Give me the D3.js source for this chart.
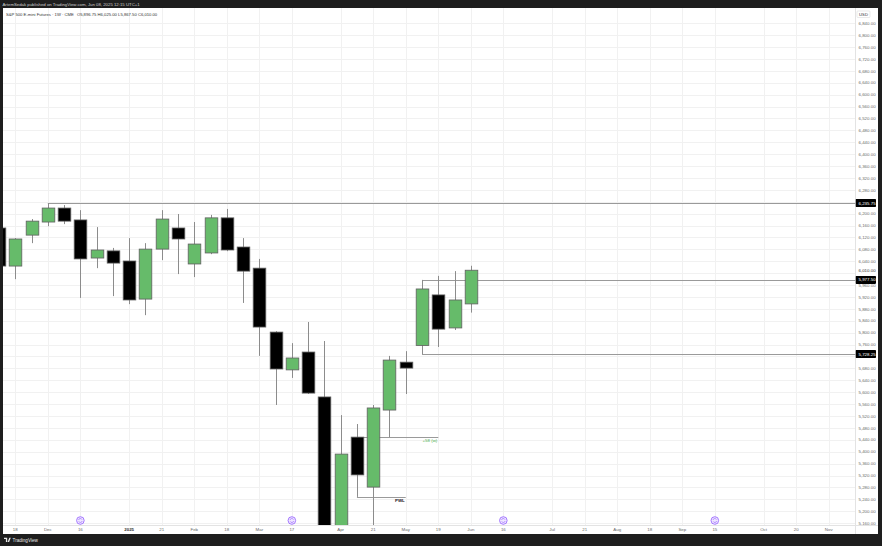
<!DOCTYPE html>
<html>
<head>
<meta charset="utf-8">
<script src="https://cdn.jsdelivr.net/npm/d3@7"></script>
<style>
html, body { margin: 0; padding: 0; background: #1e1e1e; }
svg { display: block; font-family: "Liberation Sans", Arial, sans-serif; }
</style>
</head>
<body>
<svg width="882" height="546"></svg>
<script>
// weekly candles, S&P 500 E-mini (1W)
var weeks  = ["2024-11-11","2024-11-18","2024-11-25","2024-12-02","2024-12-09","2024-12-16","2024-12-23","2024-12-30",
              "2025-01-06","2025-01-13","2025-01-20","2025-01-27","2025-02-03","2025-02-10","2025-02-17","2025-02-24",
              "2025-03-03","2025-03-10","2025-03-17","2025-03-24","2025-03-31","2025-04-07","2025-04-14","2025-04-21",
              "2025-04-28","2025-05-05","2025-05-12","2025-05-19","2025-05-26","2025-06-02"];
var opens  = [6152, 6024, 6128, 6172, 6219, 6179, 6051, 6075, 6041, 5913, 6081, 6152, 6031, 6068, 6186, 6088,
              6017, 5802, 5675, 5735, 5584, 5110, 5449, 5281, 5540, 5701, 5757, 5927, 5816, 5896.75];
var highs  = [6165, 6118, 6182, 6235.75, 6229, 6212, 6155, 6085, 6118, 6101, 6212, 6199, 6172, 6196, 6216, 6118,
              6048, 5805, 5765, 5836, 5772, 5523, 5493, 5557, 5722, 5738, 5977.5, 5991, 6007, 6025];
var lows   = [6010, 5980, 6101, 6158, 6165, 5917, 6017, 5923, 5896, 5859, 6044, 5997, 5987, 6064, 6074, 5900,
              5722, 5557, 5648, 5594, 5100, 4890, 5248, 5140, 5449, 5594, 5728.25, 5752, 5809, 5867.5];
var closes = [6024, 6115, 6175, 6219, 6175, 6048, 6078, 6034, 5910, 6081, 6182, 6115, 6098, 6186, 6078, 6007,
              5819, 5678, 5715, 5597, 5130, 5392, 5322, 5547, 5708, 5681, 5947, 5812, 5910, 6010];

var xTickDates  = ["2024-11-18","2024-12-02","2024-12-16","2025-01-06","2025-01-20","2025-02-03","2025-02-17","2025-03-03",
                   "2025-03-17","2025-04-07","2025-04-21","2025-05-05","2025-05-19","2025-06-02","2025-06-16","2025-07-07",
                   "2025-07-21","2025-08-04","2025-08-18","2025-09-01","2025-09-15","2025-10-06","2025-10-20","2025-11-03"];
var xTickLabels = ["18","Dec","16","2025","21","Feb","18","Mar","17","Apr","21","May","19","Jun","16","Jul",
                   "21","Aug","18","Sep","15","Oct","20","Nov"];
var eventDates  = ["2024-12-16","2025-03-17","2025-06-16","2025-09-15"];

// drawn levels
var levelValues = [6235.75, 5977.5, 5728.25];
var levelStarts = ["2024-12-02","2025-05-12","2025-05-12"];
var noteValues  = [5449, 5248];
var noteStarts  = ["2025-04-14","2025-04-14"];
var noteEnds    = ["2025-05-19","2025-05-05"];
var noteLabels  = ["+58 (w)","PWL"];
var lastPrice = 6010;

var title  = "S&P 500 E-mini Futures · 1W · CME";
var ohlcTx = "O5,896.75 H6,025.00 L5,867.50 C6,010.00";
var byline = "ArtemSedak published on TradingView.com, Jun 08, 2025 12:15 UTC+1";

var GREEN = "#66bb6a";
var svg = d3.select("svg");
var W = 882, H = 546;
var plot = {left: 3, right: 855.5, top: 8, bottom: 525};

function pd(s) { var p = s.split("-"); return new Date(Date.UTC(+p[0], +p[1]-1, +p[2])); }

var x = d3.scaleUtc()
    .domain([pd("2024-11-18"), pd("2025-11-03")])
    .range([15.3, 828.7]);
var y = d3.scaleLinear()
    .domain([5200, 6840])
    .range([511.2, 23.3]);

var fmt = d3.format(",.2f");

/* frame */
svg.append("rect").attr("width", W).attr("height", H).attr("fill", "#1e1e1e");
svg.append("rect").attr("x", 3).attr("y", 8).attr("width", 875).attr("height", 526).attr("fill", "#ffffff");

svg.append("defs").append("clipPath").attr("id", "plotClip")
  .append("rect").attr("x", plot.left).attr("y", plot.top)
  .attr("width", plot.right - plot.left).attr("height", plot.bottom - plot.top);
svg.select("defs").append("clipPath").attr("id", "axisClip")
  .append("rect").attr("x", plot.right).attr("y", plot.top)
  .attr("width", 878 - plot.right).attr("height", plot.bottom - plot.top);

/* grid */
var yTicks = d3.range(5160, 6841, 40);
var grid = svg.append("g").attr("clip-path", "url(#plotClip)");
grid.selectAll("line.h").data(yTicks).enter().append("line")
    .attr("x1", plot.left).attr("x2", plot.right)
    .attr("y1", function(d) { return Math.round(y(d)) + 0.5; })
    .attr("y2", function(d) { return Math.round(y(d)) + 0.5; })
    .attr("stroke", "#f1f1f1").attr("stroke-width", 1);
grid.selectAll("line.v").data(xTickDates).enter().append("line")
    .attr("x1", function(d) { return Math.round(x(pd(d))) + 0.5; })
    .attr("x2", function(d) { return Math.round(x(pd(d))) + 0.5; })
    .attr("y1", plot.top).attr("y2", plot.bottom)
    .attr("stroke", "#f1f1f1").attr("stroke-width", 1);

/* axes separators */
svg.append("line").attr("x1", plot.right).attr("x2", plot.right).attr("y1", plot.top).attr("y2", 534)
   .attr("stroke", "#e3e3e3");
svg.append("line").attr("x1", plot.left).attr("x2", 878).attr("y1", plot.bottom + 0.5).attr("y2", plot.bottom + 0.5)
   .attr("stroke", "#e3e3e3");

/* level lines */
var lv = svg.append("g").attr("clip-path", "url(#plotClip)");
lv.selectAll("line.lvl").data(levelValues).enter().append("line")
    .attr("x1", function(d, i) { return x(pd(levelStarts[i])); })
    .attr("x2", plot.right)
    .attr("y1", function(d) { return Math.round(y(d)) + 0.5; })
    .attr("y2", function(d) { return Math.round(y(d)) + 0.5; })
    .attr("stroke", "#9a9a9a").attr("stroke-width", 1);
lv.selectAll("line.note").data(noteValues).enter().append("line")
    .attr("x1", function(d, i) { return x(pd(noteStarts[i])); })
    .attr("x2", function(d, i) { return x(pd(noteEnds[i])); })
    .attr("y1", function(d) { return Math.round(y(d)) + 0.5; })
    .attr("y2", function(d) { return Math.round(y(d)) + 0.5; })
    .attr("stroke", "#9a9a9a").attr("stroke-width", 1);
lv.selectAll("text.note").data(noteValues).enter().append("text")
    .attr("x", function(d, i) { return x(pd(noteEnds[i])) - 1; })
    .attr("y", function(d) { return y(d) + 5.2; })
    .attr("text-anchor", "end")
    .attr("font-size", 4.4)
    .attr("font-weight", function(d, i) { return i === 1 ? "bold" : "normal"; })
    .attr("fill", function(d, i) { return i === 0 ? "#4caf50" : "#222"; })
    .text(function(d, i) { return noteLabels[i]; });

/* candles */
var candles = weeks.map(function(w, i) {
  return {date: pd(w), o: opens[i], h: highs[i], l: lows[i], c: closes[i]};
});
var bw = 12.6;
var cg = svg.append("g").attr("clip-path", "url(#plotClip)");
cg.selectAll("line.wick").data(candles).enter().append("line")
    .attr("x1", function(d) { return Math.round(x(d.date)) + 0.5; })
    .attr("x2", function(d) { return Math.round(x(d.date)) + 0.5; })
    .attr("y1", function(d) { return y(d.h); })
    .attr("y2", function(d) { return y(d.l); })
    .attr("stroke", "#8c8c8c").attr("stroke-width", 1);
cg.selectAll("rect.body").data(candles).enter().append("rect")
    .attr("x", function(d) { return Math.round(x(d.date)) + 0.5 - bw / 2; })
    .attr("width", bw)
    .attr("y", function(d) { return y(Math.max(d.o, d.c)); })
    .attr("height", function(d) { return Math.max(1, Math.abs(y(d.o) - y(d.c))); })
    .attr("fill", function(d) { return d.c >= d.o ? GREEN : "#000000"; })
    .attr("stroke", "#606060").attr("stroke-width", 0.8);

/* y axis labels (ticks hidden where a price label sits on them) */
var taken = levelValues.concat([lastPrice]);
var ax = svg.append("g").attr("clip-path", "url(#axisClip)");
ax.selectAll("text.yt").data(yTicks.filter(function(d) {
      return taken.every(function(t) { return Math.abs(y(d) - y(t)) > 4.6; });
    }))
  .enter().append("text")
    .attr("x", 858.5).attr("y", function(d) { return y(d) + 1.6; })
    .attr("font-size", 4.4).attr("fill", "#6b6b6b")
    .text(function(d) { return fmt(d); });
ax.append("text").attr("x", 858.5).attr("y", y(lastPrice) + 1.6)
    .attr("font-size", 4.4).attr("fill", "#333").text(fmt(lastPrice));
ax.selectAll("rect.lb").data(levelValues).enter().append("rect")
    .attr("x", plot.right).attr("width", 20.5)
    .attr("y", function(d) { return y(d) - 4; }).attr("height", 8)
    .attr("rx", 0.8).attr("fill", "#000");
ax.selectAll("text.lb").data(levelValues).enter().append("text")
    .attr("x", 858.5).attr("y", function(d) { return y(d) + 1.6; })
    .attr("font-size", 4.4).attr("fill", "#fff")
    .text(function(d) { return fmt(d); });

// currency box
svg.append("rect").attr("x", 857).attr("y", 11).attr("width", 13).attr("height", 6.5)
   .attr("fill", "#fff").attr("stroke", "#dcdcdc").attr("stroke-width", 0.6).attr("rx", 0.8);
svg.append("text").attr("x", 863.5).attr("y", 15.8).attr("text-anchor", "middle")
   .attr("font-size", 4.2).attr("fill", "#333").text("USD");

/* x axis labels */
svg.selectAll("text.xt").data(xTickDates).enter().append("text")
    .attr("x", function(d) { return x(pd(d)); })
    .attr("y", 531)
    .attr("text-anchor", "middle")
    .attr("font-size", 4.4)
    .attr("font-weight", function(d, i) { return xTickLabels[i] === "2025" ? "bold" : "normal"; })
    .attr("fill", function(d, i) { return xTickLabels[i] === "2025" ? "#333" : "#6b6b6b"; })
    .text(function(d, i) { return xTickLabels[i]; });

/* contract roll markers */
var ev = svg.selectAll("g.ev").data(eventDates).enter().append("g")
    .attr("transform", function(d) { return "translate(" + x(pd(d)) + ",520.5)"; });
ev.append("circle").attr("r", 3.8).attr("fill", "#efe7ff").attr("stroke", "#9c6bff").attr("stroke-width", 0.9);
ev.append("path").attr("d", "M-1.8,-0.6 A1.8,1.8 0 0 1 1.6,-0.9 M1.8,0.6 A1.8,1.8 0 0 1 -1.6,0.9")
    .attr("fill", "none").attr("stroke", "#9c6bff").attr("stroke-width", 0.7);

/* header texts */
svg.append("text").attr("x", 2.5).attr("y", 5.8).attr("font-size", 4.3).attr("fill", "#d0d0d0").text(byline);
var hd = svg.append("text").attr("x", 6).attr("y", 15.6).attr("font-size", 4.2).attr("fill", "#333");
hd.append("tspan").text(title);
hd.append("tspan").attr("dx", 3).text(ohlcTx);

/* footer logo */
var ft = svg.append("g").attr("transform", "translate(4,540)");
ft.append("path").attr("d", "M0,-2.3 h3.2 v4.3 h-1.3 v-3.0 h-1.9 z M3.6,2 l1.7,-4.3 h1.5 l-1.7,4.3 z")
  .attr("fill", "#e8e8e8");
ft.append("text").attr("x", 8.5).attr("y", 1.7).attr("font-size", 4.6).attr("fill", "#e8e8e8").text("TradingView");
</script>
</body>
</html>
